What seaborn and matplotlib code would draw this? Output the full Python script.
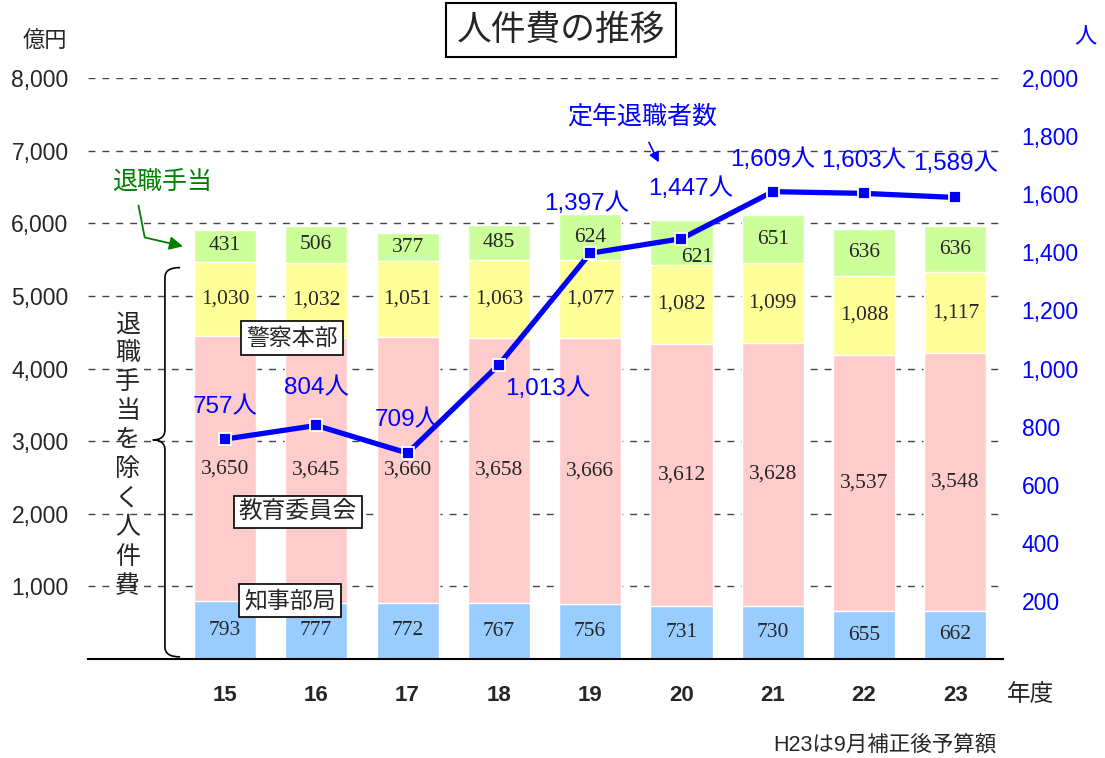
import numpy as np
import matplotlib
matplotlib.use("Agg")
import matplotlib.pyplot as plt
import seaborn as sns
from matplotlib.path import Path
from matplotlib.patches import PathPatch

# データ（億円 / 人）
years = ["15", "16", "17", "18", "19", "20", "21", "22", "23"]
chiji = [793, 777, 772, 767, 756, 731, 730, 655, 662]          # 知事部局
kyoiku = [3650, 3645, 3660, 3658, 3666, 3612, 3628, 3537, 3548]  # 教育委員会
keisatsu = [1030, 1032, 1051, 1063, 1077, 1082, 1099, 1088, 1117]  # 警察本部
taishoku = [431, 506, 377, 485, 624, 621, 651, 636, 636]        # 退職手当
retirees = [757, 804, 709, 1013, 1397, 1447, 1609, 1603, 1589]  # 定年退職者数

c_blue, c_pink, c_yellow, c_green = "#99CCFF", "#FFCCCC", "#FFFF99", "#CCFF99"
c_line = "#0000FF"

sns.set_style("white")
plt.rcParams["font.family"] = ["Liberation Sans", "Noto Sans CJK JP"]
SERIF = ["Liberation Serif", "Noto Sans CJK JP"]

fig = plt.figure(figsize=(11.05, 7.58), dpi=100)
ax = fig.add_axes([0.0796, 0.1306, 0.828, 0.7664])

# 積み上げ棒（上から順に累積を重ねる）
s1 = np.array(chiji)
s2 = s1 + np.array(kyoiku)
s3 = s2 + np.array(keisatsu)
s4 = s3 + np.array(taishoku)
for cum, col in [(s4, c_green), (s3, c_yellow), (s2, c_pink), (s1, c_blue)]:
    sns.barplot(x=years, y=cum, color=col, saturation=1, width=0.68,
                errorbar=None, ax=ax, zorder=2)

pos = np.arange(len(years))
ax.set_xlim(-1.5, 8.52)
ax.set_ylim(0, 8000)
ax.set_yticks(range(1000, 8001, 1000))
ax.set_yticklabels([f"{v:,}" for v in range(1000, 8001, 1000)], fontsize=16.5)
ax.set_xticks(pos)
ax.set_xticklabels(years, fontsize=16, weight="bold")
ax.tick_params(axis="x", length=0, pad=19)
ax.tick_params(axis="y", length=0, pad=14)
ax.set_xlabel("")
ax.set_ylabel("")
ax.set_axisbelow(True)
ax.yaxis.grid(True, linestyle=(0, (5, 5)), color="#444444", linewidth=1)
for side in ["top", "right", "left"]:
    ax.spines[side].set_visible(False)
ax.spines["bottom"].set_color("black")
ax.spines["bottom"].set_linewidth(1.5)

# 棒内の数値
green_off = [(0, 0)] * 5 + [(16, -15)] + [(0, 0)] * 3
for i in pos:
    ax.text(i, s1[i] / 2, f"{chiji[i]:,}", ha="center", va="center",
            fontsize=15.5, family=SERIF, zorder=5)
    ax.text(i, (s1[i] + s2[i]) / 2, f"{kyoiku[i]:,}", ha="center", va="center",
            fontsize=15.5, family=SERIF, zorder=5)
    ax.text(i, (s2[i] + s3[i]) / 2, f"{keisatsu[i]:,}", ha="center", va="center",
            fontsize=15.5, family=SERIF, zorder=5)
    ax.annotate(f"{taishoku[i]:,}", (i, (s3[i] + s4[i]) / 2),
                xytext=green_off[i], textcoords="offset pixels",
                ha="center", va="center", fontsize=15.5, family=SERIF, zorder=5)

# 区分ラベル
box = dict(boxstyle="square,pad=0.22", fc="white", ec="black", lw=1.2)
ax.text(0.734, 4420, "警察本部", ha="center", va="center", fontsize=16.5, bbox=box, zorder=6)
ax.text(0.80, 2025, "教育委員会", ha="center", va="center", fontsize=17, bbox=box, zorder=6)
ax.text(0.71, 800, "知事部局", ha="center", va="center", fontsize=16.5, bbox=box, zorder=6)

# 左の中括弧と縦書き
xc, xt, xe = -0.657, -0.79, -0.49
ymid, ytop, ybot = 3017, 5390, 30
verts = [(xe, ytop), (-0.60, ytop), (xc, ytop - 40), (xc, ytop - 140),
         (xc, ymid + 140),
         (xc, ymid + 50), (-0.70, ymid), (xt, ymid),
         (-0.70, ymid), (xc, ymid - 50), (xc, ymid - 140),
         (xc, ybot + 140),
         (xc, ybot + 40), (-0.60, ybot), (xe, ybot)]
codes = [Path.MOVETO, Path.CURVE4, Path.CURVE4, Path.CURVE4,
         Path.LINETO,
         Path.CURVE4, Path.CURVE4, Path.CURVE4,
         Path.CURVE4, Path.CURVE4, Path.CURVE4,
         Path.LINETO,
         Path.CURVE4, Path.CURVE4, Path.CURVE4]
ax.add_patch(PathPatch(Path(verts, codes), fill=False, lw=1.2, ec="black",
                       clip_on=False, zorder=4))
vtext = "退職手当を除く人件費"
for k, ch in enumerate(vtext):
    ax.text(-1.07, 2810 + (4.5 - k) * 400, ch, ha="center", va="center", fontsize=18)

# 退職手当の注記
ax.text(-0.69, 6570, "退職手当", color="#008000", ha="center", va="center", fontsize=18)
ax.annotate("", xy=(-0.43, 5675), xytext=(-0.952, 6281),
            arrowprops=dict(arrowstyle="-|>,head_length=0.8,head_width=0.4",
                            color="#008000", lw=1.3,
                            connectionstyle="angle,angleA=-79,angleB=-13,rad=0"),
            annotation_clip=False)

# 右軸：定年退職者数
ax2 = ax.twinx()
sns.lineplot(x=pos, y=retirees, ax=ax2, color=c_line, linewidth=3.8,
             marker="s", markersize=8.5, markerfacecolor=c_line,
             markeredgecolor="white", markeredgewidth=1.3, zorder=5)
ax2.set_ylim(0, 2000)
ax2.set_yticks(range(200, 2001, 200))
ax2.set_yticklabels([f"{v:,}" for v in range(200, 2001, 200)], fontsize=16.5, color=c_line)
ax2.tick_params(axis="y", length=0, pad=13.5)
ax2.set_ylabel("")
for side in ["top", "right", "left", "bottom"]:
    ax2.spines[side].set_visible(False)

line_off = [(0, 32), (0, 37), (0, 33), (49, -24), (-4, 50), (9, 50),
            (0, 32), (0, 33), (0, 34)]
for i in pos:
    ax2.annotate(f"{retirees[i]:,}人", (i, retirees[i]), xytext=line_off[i],
                 textcoords="offset pixels", ha="center", va="center",
                 fontsize=17.5, color=c_line)

ax2.text(4.57, 1866, "定年退職者数", color=c_line, ha="center", va="center", fontsize=18)
ax2.annotate("", xy=(4.765, 1701), xytext=(4.63, 1787),
             arrowprops=dict(arrowstyle="-|>,head_length=0.6,head_width=0.3",
                             color=c_line, lw=1.2))

# タイトル・単位
fig.text(0.5077, 0.960, "人件費の推移", ha="center", va="center", fontsize=25,
         bbox=dict(boxstyle="square,pad=0.3", fc="white", ec="black", lw=1.5))
fig.text(0.041, 0.945, "億円", ha="center", va="center", fontsize=16)
fig.text(0.982, 0.95, "人", ha="center", va="center", fontsize=16, color=c_line)
fig.text(0.933, 0.083, "年度", ha="center", va="center", fontsize=17)
fig.text(0.801, 0.017, "H23は9月補正後予算額", ha="center", va="center", fontsize=15.5)

fig.savefig("out.png", dpi=100)
